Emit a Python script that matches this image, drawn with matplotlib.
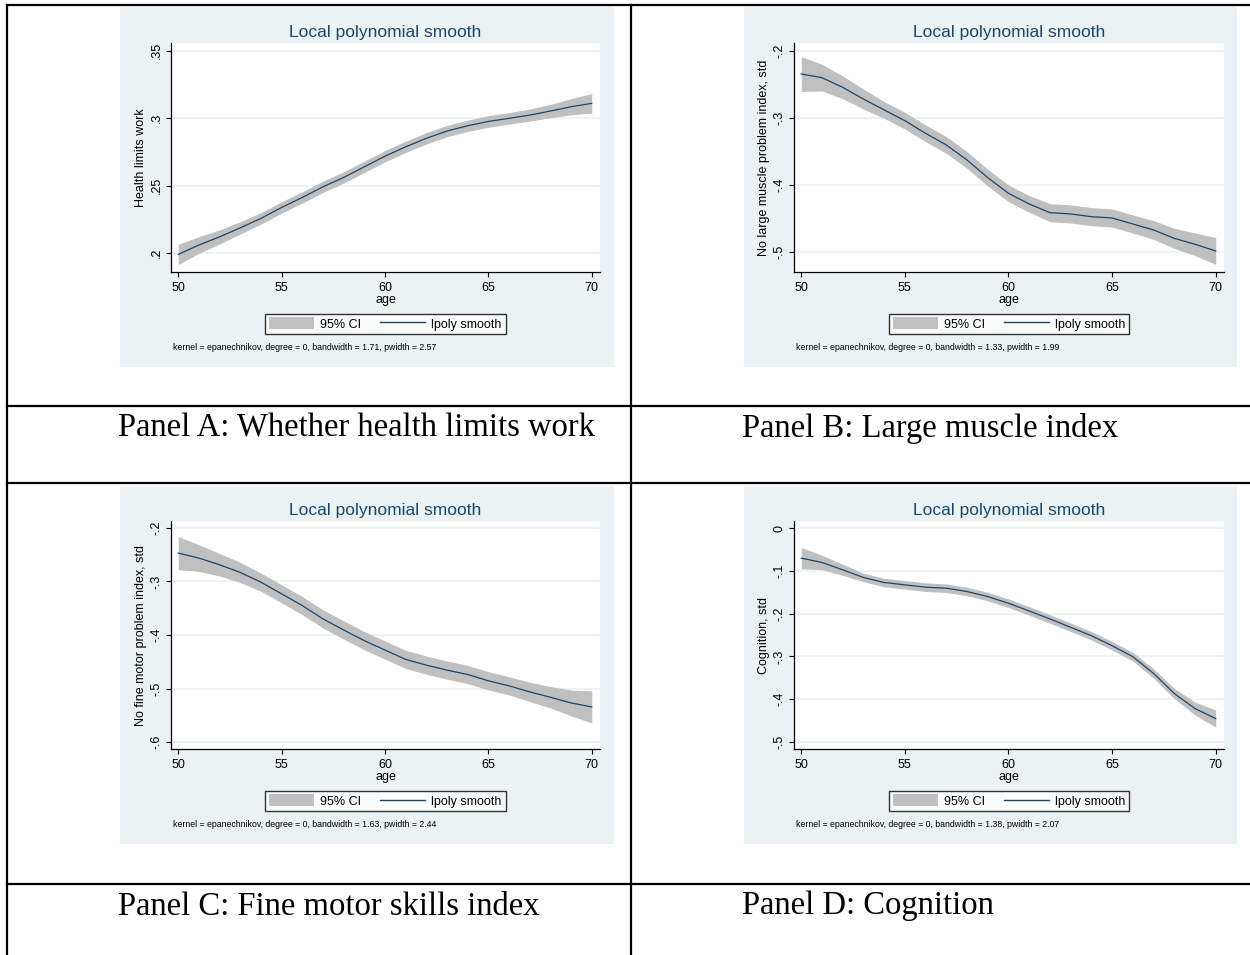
import matplotlib
matplotlib.use("Agg")
import matplotlib.pyplot as plt
from matplotlib.lines import Line2D
from matplotlib.patches import Patch, Rectangle

W, H = 1250, 955

ages = [50, 51, 52, 53, 54, 55, 56, 57, 58, 59, 60, 61, 62, 63, 64, 65, 66, 67, 68, 69, 70]

# Panel A: whether health limits work
fit_a = [0.199, 0.206, 0.212, 0.2187, 0.2257, 0.2338, 0.2412, 0.2491, 0.256, 0.2639, 0.2718,
         0.2787, 0.285, 0.2904, 0.2943, 0.2975, 0.2998, 0.3022, 0.3052, 0.3084, 0.3109]
lo_a = [0.1915, 0.1998, 0.2068, 0.2141, 0.2214, 0.2296, 0.2370, 0.2449, 0.2518, 0.2597, 0.2676,
        0.2745, 0.2808, 0.2862, 0.2901, 0.2932, 0.2955, 0.2977, 0.3002, 0.3024, 0.3037]
hi_a = [0.2065, 0.2122, 0.2172, 0.2233, 0.2300, 0.2380, 0.2454, 0.2533, 0.2602, 0.2681, 0.2760,
        0.2829, 0.2892, 0.2946, 0.2985, 0.3018, 0.3041, 0.3067, 0.3102, 0.3144, 0.3181]

# Panel B: large muscle index
fit_b = [-0.2343, -0.2398, -0.2542, -0.2717, -0.288, -0.304, -0.3229, -0.3403, -0.3627, -0.3891, -0.4125,
         -0.4284, -0.4414, -0.4433, -0.4474, -0.4493, -0.4583, -0.4672, -0.4797, -0.4886, -0.4986]
lo_b = [-0.2603, -0.2598, -0.2712, -0.2867, -0.3005, -0.3165, -0.3354, -0.3528, -0.3752, -0.4016, -0.4250,
        -0.4409, -0.4549, -0.4568, -0.4609, -0.4628, -0.4718, -0.4812, -0.4947, -0.5056, -0.5186]
hi_b = [-0.2083, -0.2198, -0.2372, -0.2567, -0.2755, -0.2915, -0.3104, -0.3278, -0.3502, -0.3766, -0.4000,
        -0.4159, -0.4279, -0.4298, -0.4339, -0.4358, -0.4448, -0.4532, -0.4647, -0.4716, -0.4786]

# Panel C: fine motor skills index
fit_c = [-0.2469, -0.2563, -0.2688, -0.2831, -0.3013, -0.3231, -0.345, -0.37, -0.3906, -0.4106, -0.4281,
         -0.4456, -0.4563, -0.4656, -0.4738, -0.4856, -0.495, -0.5063, -0.5163, -0.5269, -0.5344]
lo_c = [-0.2779, -0.2813, -0.2898, -0.3021, -0.3183, -0.3401, -0.3620, -0.3870, -0.4076, -0.4276, -0.4451,
        -0.4626, -0.4733, -0.4826, -0.4908, -0.5026, -0.5120, -0.5243, -0.5363, -0.5509, -0.5644]
hi_c = [-0.2159, -0.2313, -0.2478, -0.2641, -0.2843, -0.3061, -0.3280, -0.3530, -0.3736, -0.3936, -0.4111,
        -0.4286, -0.4393, -0.4486, -0.4568, -0.4686, -0.4780, -0.4883, -0.4963, -0.5029, -0.5044]

# Panel D: cognition
fit_d = [-0.0703, -0.0805, -0.0977, -0.1156, -0.1273, -0.1328, -0.1383, -0.1406, -0.1484, -0.1602, -0.1758,
         -0.1938, -0.2125, -0.232, -0.2516, -0.275, -0.3008, -0.3398, -0.3867, -0.4219, -0.4453]
lo_d = [-0.0953, -0.0975, -0.1107, -0.1256, -0.1373, -0.1428, -0.1483, -0.1506, -0.1584, -0.1702, -0.1858,
        -0.2038, -0.2225, -0.2420, -0.2616, -0.2850, -0.3108, -0.3508, -0.3987, -0.4369, -0.4653]
hi_d = [-0.0453, -0.0635, -0.0847, -0.1056, -0.1173, -0.1228, -0.1283, -0.1306, -0.1384, -0.1502, -0.1658,
        -0.1838, -0.2025, -0.2220, -0.2416, -0.2650, -0.2908, -0.3288, -0.3747, -0.4069, -0.4253]

xticks = [50, 55, 60, 65, 70]
yticks_a = [0.2, 0.25, 0.3, 0.35]
ylabels_a = [".2", ".25", ".3", ".35"]
yticks_b = [-0.5, -0.4, -0.3, -0.2]
ylabels_b = ["-.5", "-.4", "-.3", "-.2"]
yticks_c = [-0.6, -0.5, -0.4, -0.3, -0.2]
ylabels_c = ["-.6", "-.5", "-.4", "-.3", "-.2"]
yticks_d = [-0.5, -0.4, -0.3, -0.2, -0.1, 0]
ylabels_d = ["-.5", "-.4", "-.3", "-.2", "-.1", "0"]

ytitles = ["Health limits work", "No large muscle problem index, std",
           "No fine motor problem index, std", "Cognition, std"]
notes = ["kernel = epanechnikov, degree = 0, bandwidth = 1.71, pwidth = 2.57",
         "kernel = epanechnikov, degree = 0, bandwidth = 1.33, pwidth = 1.99",
         "kernel = epanechnikov, degree = 0, bandwidth = 1.63, pwidth = 2.44",
         "kernel = epanechnikov, degree = 0, bandwidth = 1.38, pwidth = 2.07"]
captions = ["Panel A: Whether health limits work", "Panel B: Large muscle index",
            "Panel C: Fine motor skills index", "Panel D: Cognition"]

BG = "#eaf2f3"
NAVY = "#1a476f"
CIGRAY = "#c0c0c0"
SANS = "Liberation Sans"


def fx(x):
    return x / W


def fy(y):
    return 1 - y / H


fig = plt.figure(figsize=(W / 100, H / 100), dpi=100)

# (plot left, top, right, bottom), (bg left, top, right, bottom), caption x, caption y, ylim
layout = [
    ((171, 43, 600, 272), (120, 7, 614, 367), 118, 428, (0.186, 0.3556)),
    ((794, 43, 1224, 272), (744, 7, 1237, 367), 742, 428, (-0.530, -0.188)),
    ((171, 521, 600, 749), (120, 486, 614, 844), 118, 907, (-0.613, -0.187)),
    ((794, 521, 1224, 749), (744, 486, 1237, 844), 742, 906, (-0.5164, 0.0164)),
]
series = [(fit_a, lo_a, hi_a, yticks_a, ylabels_a),
          (fit_b, lo_b, hi_b, yticks_b, ylabels_b),
          (fit_c, lo_c, hi_c, yticks_c, ylabels_c),
          (fit_d, lo_d, hi_d, yticks_d, ylabels_d)]

for i in range(4):
    (l, t, r, b), (bl, bt, br, bb), cx, cy, ylim = layout[i]
    fit, lo, hi, yt, yl = series[i]

    fig.add_artist(Rectangle((fx(bl), fy(bb)), fx(br - bl), (bb - bt) / H,
                             transform=fig.transFigure, facecolor=BG, edgecolor="none", zorder=0))

    ax = fig.add_axes([fx(l), fy(b), fx(r - l), (b - t) / H])
    ax.set_facecolor("white")
    for yv in yt:
        ax.axhline(yv, color=BG, lw=1.2, zorder=0)
    ax.fill_between(ages, lo, hi, color=CIGRAY, lw=0, zorder=1)
    ax.plot(ages, fit, color=NAVY, lw=0.9, zorder=2)
    ax.set_xlim(49.65, 70.4)
    ax.set_ylim(*ylim)
    ax.set_xticks(xticks)
    ax.set_xticklabels([str(v) for v in xticks], fontsize=9, family=SANS)
    ax.set_yticks(yt)
    ax.set_yticklabels(yl, fontsize=9, family=SANS, rotation=90, va="center")
    ax.tick_params(direction="out", length=3.6, width=0.8, color="black", pad=2.5)
    ax.tick_params(axis="x", pad=3.5)
    for s in ["top", "right"]:
        ax.spines[s].set_visible(False)
    for s in ["left", "bottom"]:
        ax.spines[s].set_linewidth(0.9)
        ax.spines[s].set_color("black")

    mid = (l + r) / 2
    fig.text(fx(mid), fy(t - 11), "Local polynomial smooth", ha="center", va="center",
             fontsize=12.5, color=NAVY, family=SANS)
    fig.text(fx(mid), fy(b + 28), "age", ha="center", va="center", fontsize=9, family=SANS)
    fig.text(fx(l - 30), fy((t + b) / 2), ytitles[i], ha="center", va="center", rotation=90,
             fontsize=9, family=SANS)
    fig.text(fx(l + 2), fy(b + 75), notes[i], ha="left", va="center", fontsize=6.3, family=SANS)

    handles = [Patch(facecolor=CIGRAY, edgecolor="none"), Line2D([], [], color=NAVY, lw=1.0)]
    leg = ax.legend(handles, ["95% CI", "lpoly smooth"], ncol=2, loc="center",
                    bbox_to_anchor=(fx(mid), fy(b + 52)), bbox_transform=fig.transFigure,
                    prop={"family": SANS, "size": 9}, frameon=True, fancybox=False,
                    edgecolor="black", handlelength=3.6, handleheight=1.1, handletextpad=0.5,
                    columnspacing=1.5, borderpad=0.3)
    leg.get_frame().set_linewidth(1.0)

    fig.text(fx(cx), fy(cy), captions[i], ha="left", va="center", fontsize=23.5,
             family="Liberation Serif")

# table rules
lw = 1.6
fig.add_artist(Line2D([fx(7), 1], [fy(5), fy(5)], color="black", lw=lw))
for yy in [406, 483, 884]:
    fig.add_artist(Line2D([fx(7), 1], [fy(yy), fy(yy)], color="black", lw=lw))
for xx in [7, 631]:
    fig.add_artist(Line2D([fx(xx), fx(xx)], [fy(5), 0], color="black", lw=lw))

fig.savefig("out.png", dpi=100, facecolor="white")
